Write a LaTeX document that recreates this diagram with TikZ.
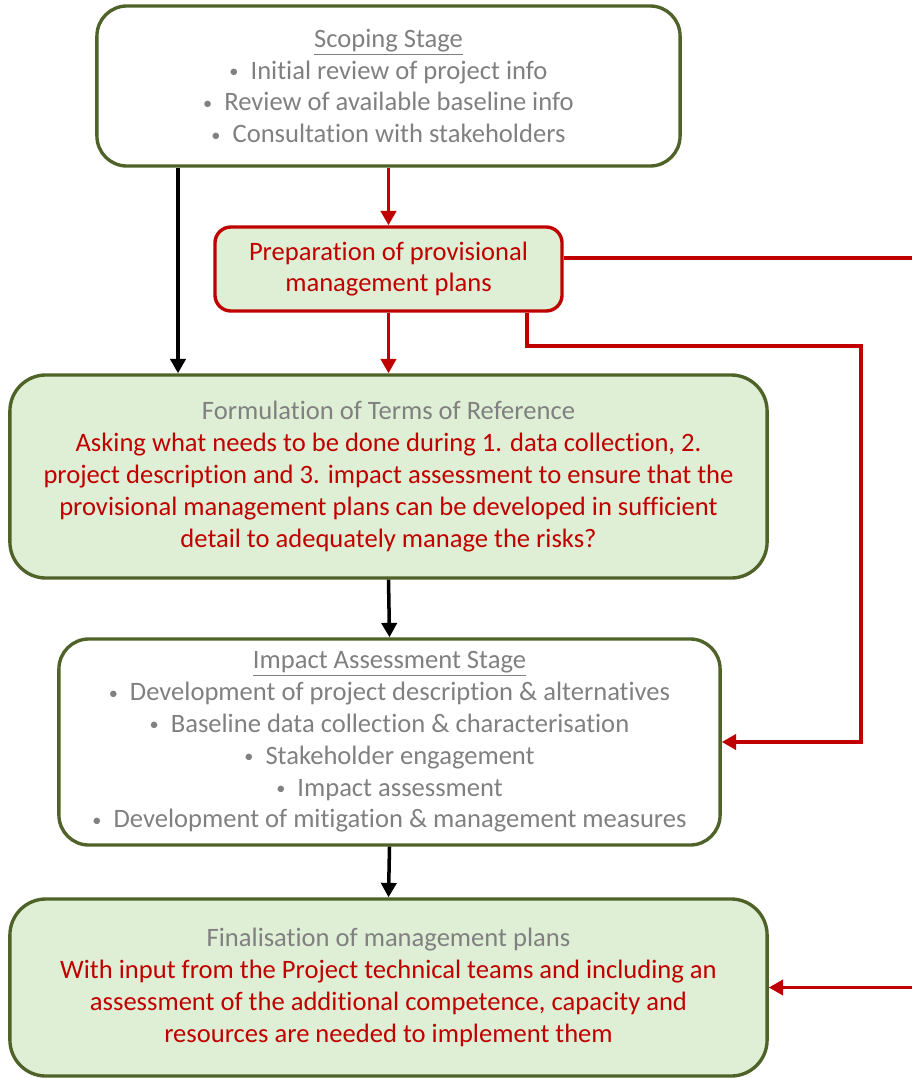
\documentclass[tikz,border=0pt]{standalone}
\usepackage{fontspec}
\setmainfont[Ligatures=NoCommon]{Carlito}
\usetikzlibrary{arrows.meta,positioning,calc}
\definecolor{olive}{RGB}{79,98,40}
\definecolor{leaf}{RGB}{223,239,213}
\definecolor{darkred}{RGB}{192,0,0}
\definecolor{txtgray}{RGB}{128,128,128}
\newcommand{\bul}{\raisebox{0.12ex}{\fontsize{13}{13}\selectfont\textbullet}\ \ }

\begin{document}
\begin{tikzpicture}[x=0.025cm, y=-0.025cm,
    font=\fontsize{18.9}{22.6}\selectfont,
    stagebox/.style={draw=olive, line width=2.4pt, rounded corners=0.75cm, align=center, text=txtgray, inner sep=0pt},
    greenbox/.style={stagebox, fill=leaf, rounded corners=0.9cm},
    flow/.style={line width=2.5pt, -{Triangle[length=0.36cm,width=0.38cm]}},
    redflow/.style={flow, darkred}]
  \clip (0,0) rectangle (912,1078);
  % boxes
  \node[stagebox, minimum width=14.575cm, minimum height=4cm] (scope) at (388.5,86)
    {\underline{Scoping Stage}\\
     \bul Initial review of project info\\
     \bul Review of available baseline info\\
     \bul Consultation with stakeholders};
  \node[greenbox, draw=darkred, text=darkred, rounded corners=0.4cm,
    minimum width=8.675cm, minimum height=2.1cm] (prep) at (388.5,269)
    {Preparation of provisional\\management plans};
  \node[greenbox, minimum width=18.925cm, minimum height=5.075cm] (tor) at (388.5,476.5)
    {Formulation of Terms of Reference\\
     \color{darkred}Asking what needs to be done during 1. data collection, 2.\\
     \color{darkred}project description and 3. impact assessment to ensure that the\\
     \color{darkred}provisional management plans can be developed in sufficient\\
     \color{darkred}detail to adequately manage the risks?};
  \node[stagebox, minimum width=16.525cm, minimum height=5.15cm] (imp) at (389.5,742)
    {\underline{Impact Assessment Stage}\\
     \bul Development of project description \& alternatives\\
     \bul Baseline data collection \& characterisation\\
     \bul Stakeholder engagement\\
     \bul Impact assessment\\
     \bul Development of mitigation \& management measures};
  \node[greenbox, minimum width=18.925cm, minimum height=4.425cm] (fin) at (388.5,987.5)
    {Finalisation of management plans\\
     \color{darkred}With input from the Project technical teams and including an\\
     \color{darkred}assessment of the additional competence, capacity and\\
     \color{darkred}resources are needed to implement them};
  % helper points
  \coordinate (lft) at (178,0);
  \coordinate (rt) at (940,258);
  \coordinate (lp) at (527,346);
  \coordinate (rr) at (861,346);
  % connectors
  \draw[flow] (scope.south -| lft) -- (tor.north -| lft);
  \draw[redflow] (scope.south) -- (prep.north);
  \draw[redflow] (prep.south) -- (tor.north);
  \draw[flow] (tor.south) -- (imp.north);
  \draw[flow] (imp.south) -- (fin.north);
  \draw[redflow] (prep.east |- rt) -- (rt) -- (rt |- fin.east) -- (fin.east);
  \draw[redflow] (prep.south -| lp) -- (lp) -- (rr) -- (rr |- imp.east) -- (imp.east);
\end{tikzpicture}
\end{document}
